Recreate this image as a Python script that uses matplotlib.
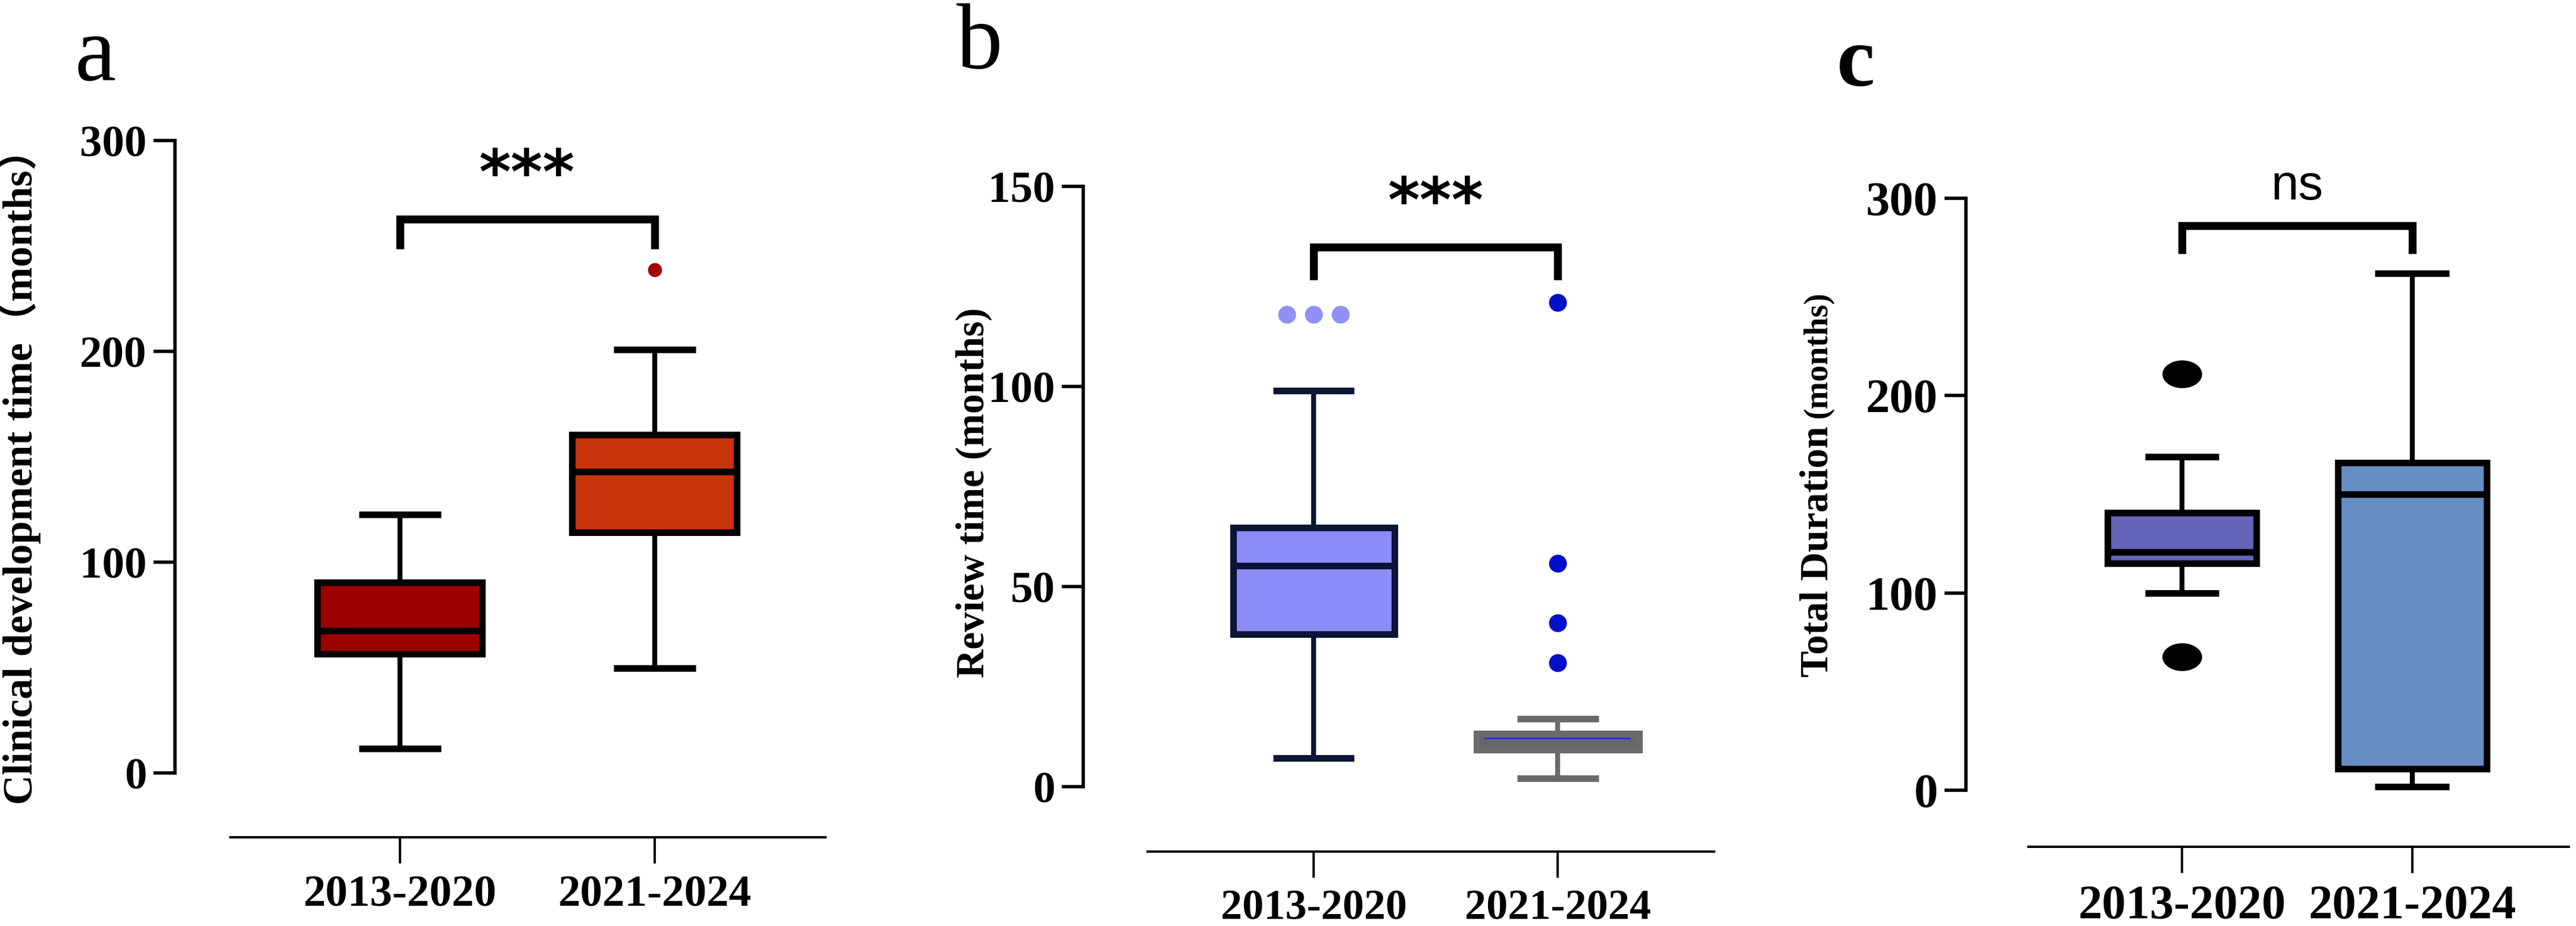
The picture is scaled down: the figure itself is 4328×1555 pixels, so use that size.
import numpy as np
import matplotlib
matplotlib.use("Agg")
import matplotlib.pyplot as plt

plt.rcParams['font.family'] = ['Liberation Serif', 'Noto Sans CJK SC', 'DejaVu Sans']
plt.rcParams['font.weight'] = 'bold'

# ---- data ----
groups = ['2013-2020', '2021-2024']

# panel a: clinical development time (months)
a_whislo = [11.5, 49.6]
a_q1 = [56.5, 114.0]
a_med = [67.5, 142.9]
a_q3 = [90.5, 160.5]
a_whishi = [122.7, 200.8]
a_out = [[], [238.7]]

# panel b: review time (months)
b_whislo = [7.1, 2.1]
b_q1 = [38.1, 9.2]
b_med = [55.2, 12.1]
b_q3 = [64.8, 13.3]
b_whishi = [99.0, 17.0]
b_out = [[118.0, 118.0, 118.0], [121.0, 55.8, 40.9, 31.0]]

# panel c: total duration (months)
c_whislo = [100.0, 1.8]
c_q1 = [115.0, 10.8]
c_med = [120.8, 150.0]
c_q3 = [140.8, 166.0]
c_whishi = [169.0, 262.0]
c_out = [[211.0, 67.7], []]


def make_stats(whislo, q1, med, q3, whishi):
    stats = []
    for i in range(len(groups)):
        stats.append({'whislo': whislo[i], 'q1': q1[i], 'med': med[i],
                      'q3': q3[i], 'whishi': whishi[i], 'fliers': []})
    return stats


def style_axis(ax, xlo, xline, ylo, ytop, yticks, ysize=27, xsize=27):
    """Prism-like axes: y spine only 0..top, detached x line below."""
    ax.set_xlim(xlo, xline[1])
    ax.set_ylim(ylo, ytop)
    for s in ['top', 'right']:
        ax.spines[s].set_visible(False)
    ax.spines['left'].set_bounds(0, ytop)
    ax.spines['left'].set_linewidth(2.0)
    ax.spines['bottom'].set_bounds(xline[0], xline[1])
    ax.spines['bottom'].set_linewidth(1.4)
    ax.set_yticks(yticks)
    ax.set_xticks([0, 1])
    ax.set_xticklabels(groups)
    ax.tick_params(axis='y', length=13, width=2.0, pad=4, labelsize=ysize)
    ax.tick_params(axis='x', length=16, width=1.4, pad=7, labelsize=xsize)
    for lab in ax.get_xticklabels() + ax.get_yticklabels():
        lab.set_fontweight('bold')


def draw_boxes(ax, stats, widths, faces, edges, lw_box=4.0, lw_whisk=3.0, lw_cap=4.0):
    bp = ax.bxp(stats, positions=[0, 1], widths=widths, capwidths=[w / 2 for w in widths],
                patch_artist=True, showfliers=False, manage_ticks=False)
    for i, box in enumerate(bp['boxes']):
        box.set_facecolor(faces[i])
        box.set_edgecolor(edges[i])
        box.set_linewidth(lw_box)
        box.set_joinstyle('miter')
        bp['medians'][i].set_color(edges[i])
        bp['medians'][i].set_linewidth(lw_box)
        for k in (2 * i, 2 * i + 1):
            bp['whiskers'][k].set_color(edges[i])
            bp['whiskers'][k].set_linewidth(lw_whisk)
            bp['caps'][k].set_color(edges[i])
            bp['caps'][k].set_linewidth(lw_cap)
            bp['caps'][k].set_solid_capstyle('butt')
    return bp


def draw_outliers(ax, outliers, colors, size, marker='o', step=0.11):
    for i, vals in enumerate(outliers):
        vals = np.array(vals)
        xs = np.zeros(len(vals)) + i
        # spread repeated values side by side
        for v in np.unique(vals):
            idx = np.where(vals == v)[0]
            if len(idx) > 1:
                xs[idx] = i + (np.arange(len(idx)) - (len(idx) - 1) / 2) * step
        ax.plot(xs, vals, linestyle='none', marker=marker, markersize=size,
                color=colors[i], markeredgewidth=0)


def draw_bracket(ax, y_leg, y_top, label, label_y, **kw):
    ax.plot([0, 0, 1, 1], [y_leg, y_top, y_top, y_leg], color='black', lw=4.8,
            solid_joinstyle='miter', solid_capstyle='butt', clip_on=False)
    ax.text(0.5, label_y, label, ha='center', va='center', **kw)


fig = plt.figure(figsize=(21.64, 7.775), dpi=200)

# ---- panel a ----
ax_a = fig.add_axes([0.0679, 0.0958, 0.2525, 0.7524])
draw_boxes(ax_a, make_stats(a_whislo, a_q1, a_med, a_q3, a_whishi), [0.647, 0.647],
           ['#9e0000', '#c8320d'], ['black', 'black'])
draw_outliers(ax_a, a_out, ['#a00000', '#a00000'], 8.5)
draw_bracket(ax_a, 248.5, 262.7, '***', 283,
             family='DejaVu Sans', fontsize=37, fontweight='bold')
style_axis(ax_a, -0.883, (-0.666, 1.67), -30.5, 300, [0, 100, 200, 300])
ax_a.set_ylabel('Clinical development time（months）', fontsize=25, fontweight='bold')
ax_a.yaxis.set_label_coords(-0.206, 0.532)

# ---- panel b ----
ax_b = fig.add_axes([0.4205, 0.0804, 0.2449, 0.7183])
bp_b = draw_boxes(ax_b, make_stats(b_whislo, b_q1, b_med, b_q3, b_whishi), [0.661, 0.666],
                  ['#8c8cf8', '#676767'], ['#0b1535', '#6a6a6a'])
bp_b['medians'][1].set_color('#2a2ab8')
bp_b['medians'][1].set_linewidth(0.8)
bp_b['medians'][1].set_xdata([0.7, 1.3])
draw_outliers(ax_b, b_out, ['#9090f5', '#0010c8'], 10.8)
draw_bracket(ax_b, 126.6, 134.9, '***', 145.5,
             family='DejaVu Sans', fontsize=37, fontweight='bold')
style_axis(ax_b, -0.944, (-0.68, 1.64), -16.2, 150, [0, 50, 100, 150], 27, 26)
ax_b.set_ylabel('Review time (months)', fontsize=24, fontweight='bold')
ax_b.yaxis.set_label_coords(-0.144, 0.54)

# ---- panel c ----
ax_c = fig.add_axes([0.7632, 0.0855, 0.234, 0.7003])
draw_boxes(ax_c, make_stats(c_whislo, c_q1, c_med, c_q3, c_whishi), [0.646, 0.646],
           ['#6464b9', '#658dc3'], ['black', 'black'])
ellipse = [(np.cos(t), 0.7 * np.sin(t)) for t in np.linspace(0, 2 * np.pi, 40)]
draw_outliers(ax_c, c_out, ['black', 'black'], 24, marker=ellipse)
draw_bracket(ax_c, 272, 286, 'ns', 306,
             family='Liberation Sans', fontsize=30, fontweight='normal')
style_axis(ax_c, -0.938, (-0.667, 1.68), -28.7, 300, [0, 100, 200, 300], 29, 29)
ax_c.text(-0.246, 0.455, 'Total Duration', transform=ax_c.transAxes, rotation=90,
          ha='center', va='center', fontsize=24, fontweight='bold')
ax_c.text(-0.246, 0.759, '(months)', transform=ax_c.transAxes, rotation=90,
          ha='center', va='center', fontsize=20, fontweight='bold')

# ---- panel letters ----
fig.text(0.0289, 0.9138, 'a', fontsize=56, fontweight='normal', va='baseline')
fig.text(0.3713, 0.9267, 'b', fontsize=56, fontweight='normal', va='baseline')
fig.text(0.713, 0.9074, 'c', fontsize=52, fontweight='bold', va='baseline')

fig.savefig('out.png', dpi=200)
